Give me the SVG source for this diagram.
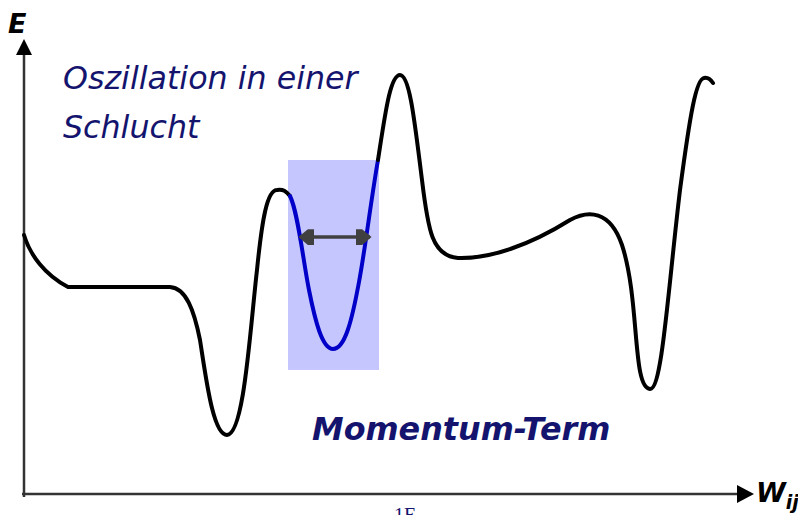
<svg xmlns="http://www.w3.org/2000/svg" width="798" height="515" viewBox="0 0 798 515">
<defs>
<style>
.curve{fill:none;stroke:#000;stroke-width:4;stroke-linecap:round;stroke-linejoin:round}
.blue{fill:none;stroke:#0000c8;stroke-width:4;stroke-linecap:round}
.axis{stroke:#333;stroke-width:2.5;fill:none}
.lbl{font-family:"DejaVu Sans",Verdana,sans-serif;font-style:italic;fill:#14146e}
.ax{font-family:"DejaVu Sans",Verdana,sans-serif;font-style:italic;font-weight:bold;fill:#000}
</style>
<marker id="dh" viewBox="0 0 10 10" refX="9" refY="5" markerWidth="4.5" markerHeight="4.5" orient="auto-start-reverse" markerUnits="strokeWidth">
<path d="M0,0 L4,0 L10,5 L4,10 L0,10 Z" fill="#404040"/>
</marker>
</defs>
<rect width="798" height="515" fill="#fff"/>
<g id="highlight">
<rect x="288" y="160" width="91" height="210" fill="#c6c6ff"/>
</g>
<g id="axes">
<line class="axis" x1="24" y1="497" x2="24" y2="52"/>
<polygon points="24,39 16,55 32,55" fill="#000"/>
<line class="axis" x1="22" y1="494" x2="740" y2="494"/>
<polygon points="754,494 737,485 737,503" fill="#000"/>
<text class="ax" x="8" y="33" font-size="27">E</text>
<text class="ax" x="756" y="502" font-size="27">W<tspan font-size="19" dy="7">ij</tspan></text>
</g>
<g id="curve">
<path class="curve" d="M24,235 C30,255 45,275 68,287 L170,287 C186,288 194,310 200,340 C206,378 213,435 227,435 C244,435 250,330 257,270 C262,220 267,190 277,190 C283,189 286,191 290,196"/>
<path class="blue" d="M290,196 C298,212 303,260 309,290 C315,320 322,349 333,349 C345,349 352,320 359,282 C365,250 371,200 378,160"/>
<path class="curve" d="M378,160 C385,115 390,75 400,75 C410,75 415,125 422,180 C428,230 432,256 458,258 C490,259 530,245 570,220 C588,210 610,210 622,245 C640,300 632,388 650,389 C662,390 668,290 680,190 C690,115 696,79 704,78 C708,77 711,80 713,83"/>
</g>
<g id="connectors">
<line x1="300" y1="237" x2="370" y2="237" stroke="#404040" stroke-width="3.5" marker-start="url(#dh)" marker-end="url(#dh)"/>
</g>
<g id="labels">
<text class="lbl" x="63" y="89" font-size="31.7">Oszillation in einer</text>
<text class="lbl" x="63" y="138" font-size="31.7">Schlucht</text>
<text class="lbl" x="312" y="440" font-size="31.8" font-weight="bold" fill="#0a0a5a">Momentum-Term</text>
<text x="394" y="522" font-size="20" font-family="Liberation Serif,serif" fill="#14146e">1E</text>
</g>
</svg>
